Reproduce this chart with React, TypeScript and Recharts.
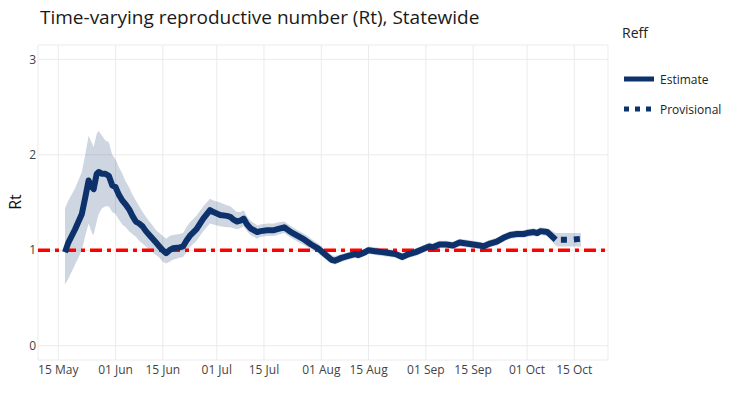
import React from "react";
import {
  ComposedChart,
  Area,
  Line,
  XAxis,
  YAxis,
  CartesianGrid,
  ReferenceLine,
  Legend,
  Label,
} from "recharts";

const FONT = '"Open Sans", Verdana, sans-serif';
const NAVY = "#0c316b";
const TEXT = "#444";

// x positions are days after 15 May
const tickDays = [0, 17, 31, 47, 61, 78, 92, 109, 123, 139, 153];
const tickLabels = [
  "15 May", "01 Jun", "15 Jun", "01 Jul", "15 Jul", "01 Aug",
  "15 Aug", "01 Sep", "15 Sep", "01 Oct", "15 Oct",
];

const estDays = [
  2, 3, 5, 7, 8, 9, 10, 10.5, 11.4, 12, 13, 14, 15, 16, 17, 18, 19, 20, 21, 22,
  23, 24, 25, 26, 27, 28, 29, 30, 31, 32, 33, 34, 36, 37, 38, 39, 41, 43, 45, 46,
  48, 50, 51, 52, 53, 54, 55, 56, 57, 59, 60, 62, 64, 65, 67, 69, 71, 73, 75, 77,
  79, 81, 82, 84, 86, 88, 89, 91, 92, 94, 96, 98, 100, 102, 104, 106, 108, 110,
  111, 113, 115, 117, 119, 121, 123, 125, 126, 128, 130, 132, 134, 136, 138, 139,
  141, 142, 143, 145, 147.5,
];
const estRt = [
  0.98, 1.08, 1.22, 1.38, 1.55, 1.73, 1.66, 1.64, 1.8, 1.82, 1.8, 1.8, 1.78, 1.68,
  1.66, 1.58, 1.52, 1.48, 1.43, 1.36, 1.3, 1.28, 1.25, 1.2, 1.16, 1.12, 1.08, 1.04,
  1.0, 0.97, 1.0, 1.02, 1.03, 1.04, 1.1, 1.15, 1.22, 1.33, 1.42, 1.4, 1.37, 1.36,
  1.35, 1.32, 1.3, 1.31, 1.33, 1.27, 1.23, 1.19, 1.2, 1.21, 1.21, 1.22, 1.24, 1.19,
  1.15, 1.11, 1.06, 1.02, 0.96, 0.9, 0.89, 0.92, 0.94, 0.96, 0.95, 0.98, 1.0, 0.99,
  0.98, 0.97, 0.96, 0.93, 0.96, 0.98, 1.01, 1.04, 1.03, 1.06, 1.06, 1.05, 1.08,
  1.07, 1.06, 1.05, 1.04, 1.07, 1.09, 1.13, 1.16, 1.17, 1.17, 1.18, 1.19, 1.18,
  1.2, 1.19, 1.11,
];
const estLower = [
  0.64, 0.7, 0.85, 1.0, 1.15, 1.28, 1.18, 1.16, 1.3, 1.38, 1.44, 1.46, 1.46, 1.4,
  1.38, 1.32, 1.27, 1.24, 1.2, 1.17, 1.14, 1.1, 1.07, 1.04, 1.01, 0.98, 0.95, 0.92,
  0.88, 0.86, 0.88, 0.9, 0.92, 0.93, 0.98, 1.03, 1.1, 1.2, 1.28, 1.27, 1.25, 1.24,
  1.24, 1.23, 1.22, 1.23, 1.25, 1.2, 1.16, 1.12, 1.14, 1.15, 1.15, 1.16, 1.18, 1.13,
  1.09, 1.05, 1.01, 0.97, 0.91, 0.86, 0.85, 0.88, 0.9, 0.92, 0.91, 0.94, 0.96, 0.95,
  0.94, 0.93, 0.92, 0.89, 0.92, 0.94, 0.97, 1.0, 0.99, 1.02, 1.02, 1.01, 1.04, 1.03,
  1.02, 1.01, 1.0, 1.03, 1.05, 1.09, 1.12, 1.13, 1.13, 1.14, 1.15, 1.14, 1.16, 1.15,
  1.05,
];
const estUpper = [
  1.44, 1.52, 1.65, 1.82, 2.0, 2.2, 2.12, 2.08, 2.22, 2.25, 2.2, 2.15, 2.13, 2.0,
  1.95, 1.87, 1.8, 1.72, 1.66, 1.58, 1.52, 1.46, 1.4, 1.35, 1.3, 1.26, 1.21, 1.18,
  1.15, 1.12, 1.15, 1.16, 1.17, 1.18, 1.24, 1.29, 1.36, 1.46, 1.54, 1.52, 1.5, 1.47,
  1.46, 1.43, 1.4, 1.4, 1.42, 1.35, 1.31, 1.26, 1.27, 1.28, 1.28, 1.29, 1.3, 1.25,
  1.21, 1.17, 1.12, 1.07, 1.01, 0.95, 0.94, 0.96, 0.98, 1.0, 0.99, 1.02, 1.04, 1.03,
  1.02, 1.01, 1.0, 0.97, 1.0, 1.02, 1.05, 1.08, 1.07, 1.1, 1.1, 1.09, 1.12, 1.11,
  1.1, 1.09, 1.08, 1.11, 1.13, 1.17, 1.2, 1.21, 1.21, 1.22, 1.23, 1.22, 1.24, 1.23,
  1.18,
];

const provDays = [148, 150, 152, 155];
const provRt = [1.11, 1.11, 1.11, 1.12];
const provLower = [1.04, 1.04, 1.04, 1.04];
const provUpper = [1.18, 1.18, 1.18, 1.18];

const data = [
  ...estDays.map((day, i) => ({ day, rt: estRt[i], lo: estLower[i], hi: estUpper[i] })),
  ...provDays.map((day, i) => ({ day, prov: provRt[i], lo: provLower[i], hi: provUpper[i] })),
];

const dashFor: Record<string, string | undefined> = {
  Estimate: undefined,
  Provisional: "5 6",
};

const ReffLegend = (props: any) => {
  const items = (props.payload || []).filter((p: any) => p.type !== "none");
  return (
    <svg width={135} height={100} style={{ display: "block" }}>
      <text x={10} y={18} fontSize={14} fill="#222" fontFamily={FONT}>
        Reff
      </text>
      {items.map((p: any, i: number) => (
        <g key={p.value}>
          <line
            x1={12}
            x2={42}
            y1={59 + 30 * i}
            y2={59 + 30 * i}
            stroke={NAVY}
            strokeWidth={5}
            strokeDasharray={dashFor[p.value]}
          />
          <text x={48} y={63.5 + 30 * i} fontSize={12} fill="#222" fontFamily={FONT}>
            {p.value}
          </text>
        </g>
      ))}
    </svg>
  );
};

const RtLabel = () => (
  <text
    x={21}
    y={202}
    transform="rotate(-90 21 202)"
    textAnchor="middle"
    fontSize={16}
    fill="#111"
    fontFamily={FONT}
  >
    Rt
  </text>
);

export default function App() {
  return (
    <div style={{ position: "absolute", left: 0, top: 0, width: 747, height: 394, background: "#fff" }}>
      <div
        style={{
          position: "absolute",
          left: 40,
          top: 4,
          fontFamily: FONT,
          fontSize: 19,
          lineHeight: "26px",
          color: "#1a1a1a",
          whiteSpace: "nowrap",
        }}
      >
        Time-varying reproductive number (Rt), Statewide
      </div>
      <ComposedChart
        width={747}
        height={394}
        data={data}
        margin={{ top: 45, right: 139, bottom: 4, left: 0 }}
        style={{ fontFamily: FONT }}
      >
        <CartesianGrid stroke="#ebebeb" strokeWidth={1} />
        <XAxis
          type="number"
          dataKey="day"
          domain={[-6, 163]}
          ticks={tickDays}
          tickFormatter={(d: number) => tickLabels[tickDays.indexOf(d)]}
          axisLine={false}
          tickLine={false}
          tickSize={0}
          tickMargin={5}
          height={30}
          interval={0}
          allowDataOverflow
          tick={{ fontSize: 12, fill: TEXT }}
        />
        <YAxis
          type="number"
          domain={[-0.15, 3.15]}
          ticks={[0, 1, 2, 3]}
          axisLine={false}
          tickLine={false}
          tickSize={0}
          tickMargin={2}
          width={38}
          allowDataOverflow
          tick={{ fontSize: 12, fill: TEXT }}
        >
          <Label content={<RtLabel />} />
        </YAxis>
        <Area
          dataKey={(d: any) => [d.lo, d.hi]}
          stroke="none"
          fill={NAVY}
          fillOpacity={0.2}
          legendType="none"
          isAnimationActive={false}
          connectNulls
        />
        <ReferenceLine
          y={1}
          stroke="#ff0000"
          strokeWidth={3.5}
          strokeDasharray="12 5 4 5"
        />
        <Line
          name="Estimate"
          dataKey="rt"
          stroke={NAVY}
          strokeWidth={6}
          strokeLinejoin="round"
          dot={false}
          activeDot={false}
          isAnimationActive={false}
        />
        <Line
          name="Provisional"
          dataKey="prov"
          stroke={NAVY}
          strokeWidth={6}
          strokeDasharray="0 3.5 6 7 6 12"
          dot={false}
          activeDot={false}
          isAnimationActive={false}
        />
        <Legend
          layout="vertical"
          align="center"
          verticalAlign="middle"
          content={<ReffLegend />}
          wrapperStyle={{ left: 612, top: 20, width: 135, height: 100 }}
        />
      </ComposedChart>
    </div>
  );
}
